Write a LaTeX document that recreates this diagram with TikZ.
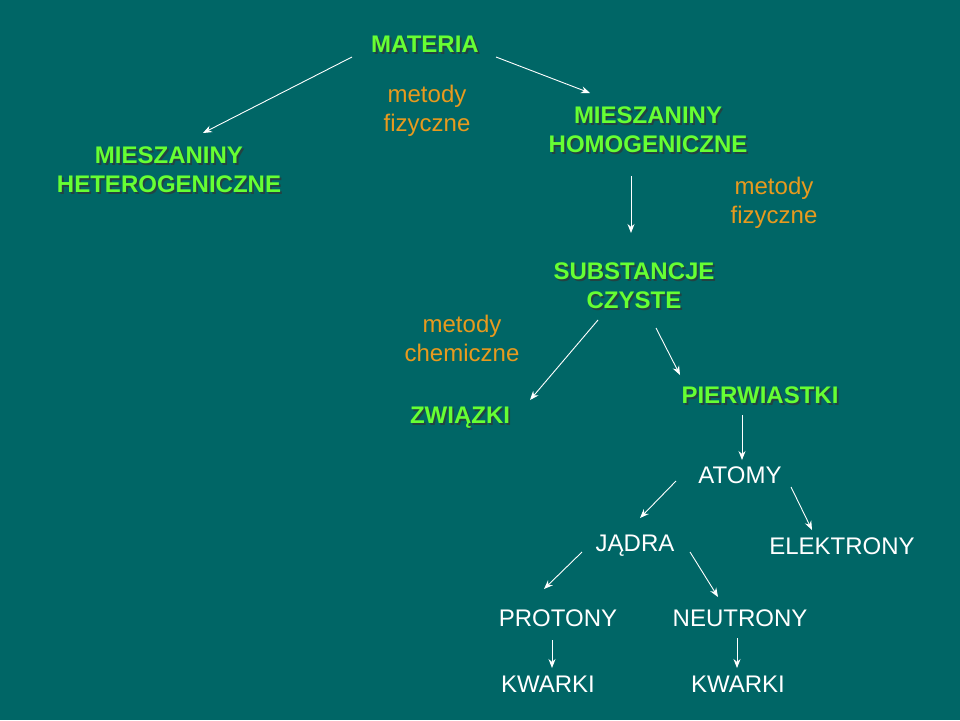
\documentclass[tikz,border=0pt]{standalone}
\usepackage{fontspec}
\usetikzlibrary{arrows.meta}
\setmainfont{Liberation Sans}
\definecolor{bg}{HTML}{006666}
\definecolor{grn}{HTML}{66FF33}
\definecolor{org}{HTML}{E89A1E}
\begin{document}
\begin{tikzpicture}[x=1pt,y=-1pt,
  gr/.style={text=grn,font=\fontsize{24}{29}\selectfont\bfseries,align=center,inner sep=0pt},
  sh/.style={text=black!80,opacity=0.7,font=\fontsize{24}{29}\selectfont\bfseries,align=center,inner sep=0pt},
  og/.style={text=org,font=\fontsize{24}{29}\selectfont,align=center,inner sep=0pt},
  wt/.style={text=white,font=\fontsize{24}{29}\selectfont,align=center,inner sep=0pt},
  ar/.style={draw=white,line width=0.9pt,-{Stealth[length=9pt,width=7pt]}}]
\fill[bg] (0,0) rectangle (960,720);
\useasboundingbox (0,0) rectangle (960,720);
\foreach \n/\x/\y/\t in {mat/425/44/MATERIA, het/169/170/{MIESZANINY\\HETEROGENICZNE}, hom/648/130/{MIESZANINY\\HOMOGENICZNE}, sub/634/286/{SUBSTANCJE\\CZYSTE}, zwi/460/418/ZWIĄZKI, pie/760/395/PIERWIASTKI}{
  \node[sh] (s\n) at (\x+1.8,\y+1.8) {\t};
  \node[gr] (\n) at (\x,\y) {\t};
}
\node[og] (mf1) at (427,111) {metody\\fizyczne};
\node[og] (mf2) at (774,203) {metody\\fizyczne};
\node[og] (mc) at (462,338) {metody\\chemiczne};
\node[wt] (ato) at (740,475) {ATOMY};
\node[wt] (jad) at (635,546) {JĄDRA};
\node[wt] (ele) at (842,546) {ELEKTRONY};
\node[wt] (pro) at (558,618) {PROTONY};
\node[wt] (neu) at (740,618) {NEUTRONY};
\node[wt] (kw1) at (548,684) {KWARKI};
\node[wt] (kw2) at (738,684) {KWARKI};
\foreach \i/\ax/\ay/\bx/\by in {1/352/57/203/133, 2/496/57/590/93, 3/631/176/631/233, 4/598/320/530/400, 5/656/328/680/375, 6/742/415/742/460, 7/676/481/640/518, 8/791/487/812/530, 9/582/552/544/589, 10/690/552/718/597, 11/552/640/552/668, 12/737/638/737/668}{
  \coordinate (a\i) at (\ax,\ay);
  \coordinate (b\i) at (\bx,\by);
  \draw[ar] (a\i) -- (b\i);
}
\end{tikzpicture}
\end{document}
